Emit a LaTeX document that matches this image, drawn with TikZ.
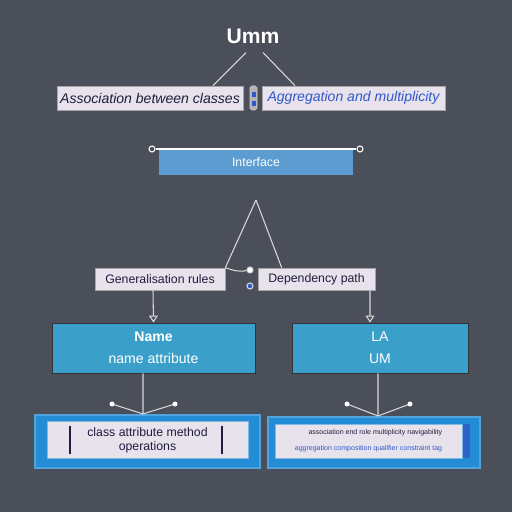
\documentclass[tikz,border=0pt]{standalone}
\usepackage{fontspec}
\setmainfont{Liberation Sans}
\usetikzlibrary{positioning}
\usetikzlibrary{arrows.meta}
\definecolor{bgcol}{RGB}{74,79,89}
\definecolor{paper}{RGB}{232,226,236}
\definecolor{barblue}{RGB}{92,156,208}
\definecolor{classblue}{RGB}{58,160,202}
\definecolor{frameblue}{RGB}{36,140,212}
\definecolor{inkblue}{RGB}{48,88,200}
\definecolor{inknavy}{RGB}{30,30,60}

\begin{document}
\begin{tikzpicture}[x=0.2mm, y=-0.2mm,
    label box/.style={draw=gray!70, fill=paper, rectangle, minimum height=0.48cm, font=\footnotesize, inner sep=1pt},
    class box/.style={draw=gray!40!black, fill=classblue, rectangle, minimum height=1cm, text=white, font=\footnotesize, align=center},
    frame box/.style={draw=frameblue!80!white, line width=1.2pt, fill=frameblue, rectangle},
    inner box/.style={draw=frameblue!60!white, fill=paper, rectangle},
    wire/.style={draw=gray!30, line width=0.6pt},
    pin/.style={draw=white, fill=bgcol, circle, inner sep=0pt, minimum size=0.12cm, line width=0.6pt}]
    % Background
    \fill[bgcol] (0,0) rectangle (512,512);
    \useasboundingbox (0,0) rectangle (512,512);

    % Title
    \node (title) at (253,36) [text=white, font=\large\bfseries] {Umm};

    % Top row of labels
    \node (lbox) at (150,98) [label box, minimum width=3.72cm, text=inknavy] {\itshape Association between classes};
    \node (rbox) at (353.5,98) [label box, minimum width=3.66cm, text=inkblue] {\itshape Aggregation and multiplicity};
    \node (link) at (253.5,98) [draw=gray!40, fill=gray!60, rounded corners=1pt, minimum width=0.14cm, minimum height=0.48cm, inner sep=0pt] {};
    \fill[inkblue] (251.5,92) rectangle (255.5,97);
    \fill[inkblue] (251.5,101) rectangle (255.5,106);

    % Interface bar
    \node (bar) at (256,162) [fill=barblue, rectangle, minimum width=3.88cm, minimum height=0.52cm, text=white, font=\scriptsize] {Interface};
    \node (pinl) at (152,149) [pin] {};
    \node (pinr) at (360,149) [pin] {};
    \draw[white, line width=0.8pt] (pinl) -- (pinr);

    % Middle labels
    \node (mlbox) at (160,279) [label box, minimum width=2.6cm, minimum height=0.44cm, text=inknavy, font=\scriptsize] {Generalisation rules};
    \node (mrbox) at (316.5,279) [label box, minimum width=2.34cm, minimum height=0.44cm, text=inknavy, font=\scriptsize] {Dependency path};
    \node (pina) at (250,270) [pin, fill=white, draw=gray!30] {};
    \node (pinb) at (250,286) [pin, fill=inkblue, draw=gray!30] {};
    \coordinate (apex) at (256,200);

    % Class boxes
    \node (lclass) at (153.5,348) [class box, minimum width=4.06cm] {\textbf{Name}\\[3pt] name attribute};
    \node (rclass) at (380,348) [class box, minimum width=3.52cm] {LA\\[3pt] UM};

    % Bottom frames
    \node (blout) at (147.5,441.5) [frame box, minimum width=4.5cm, minimum height=1.06cm] {};
    \node (blin) at (147.5,440) [inner box, minimum width=4.02cm, minimum height=0.72cm, font=\scriptsize, text=inknavy, align=center] {class attribute method\\ operations};
    \draw[inknavy, line width=0.6pt] (70,426) -- (70,454);
    \draw[inknavy, line width=0.6pt] (222,426) -- (222,454);
    \node (brout) at (374,442.5) [frame box, minimum width=4.24cm, minimum height=1.02cm] {};
    \fill[inkblue!80!frameblue] (462,424) rectangle (470,458);
    \node (brin) at (368.5,441) [inner box, minimum width=3.74cm, minimum height=0.68cm, font=\fontsize{4}{6}\selectfont, align=right] {\textcolor{inknavy}{association end role multiplicity navigability}\\[3pt] \textcolor{inkblue}{aggregation composition qualifier constraint tag}};

    % Connectors
    \draw[wire] ([xshift=-0.14cm, yshift=-0.06cm]title.south) -- ([xshift=1.26cm]lbox.north);
    \draw[wire] ([xshift=0.2cm, yshift=-0.06cm]title.south) -- ([xshift=-1.17cm]rbox.north);
    \draw[wire] (apex) -- (mlbox.north east);
    \draw[wire] (apex) -- ([xshift=0.48cm]mrbox.north west);
    \draw[wire] (mlbox.north east) to[out=-20, in=190] (pina);
    \draw[wire, -{Triangle[open, width=5pt, length=4pt]}] ([xshift=-0.14cm]mlbox.south) -- (lclass.north);
    \draw[wire, -{Triangle[open, width=5pt, length=4pt]}] ([xshift=1.07cm]mrbox.south) -- ([xshift=-0.2cm]rclass.north);

    % Links down to the frames
    \coordinate (vl1) at (112,404);
    \coordinate (vl2) at (175,404);
    \coordinate (vr1) at (347,404);
    \coordinate (vr2) at (410,404);
    \draw[wire] ([xshift=-0.21cm]lclass.south) -- ([xshift=-0.09cm]blout.north);
    \draw[wire] (vl1) -- ([xshift=-0.09cm]blout.north) -- (vl2);
    \draw[wire] ([xshift=-0.04cm]rclass.south) -- ([xshift=0.08cm]brout.north);
    \draw[wire] (vr1) -- ([xshift=0.08cm]brout.north) -- (vr2);
    \foreach \p in {vl1, vl2, vr1, vr2}
        \fill[white] (\p) circle (0.05cm);
\end{tikzpicture}
\end{document}
